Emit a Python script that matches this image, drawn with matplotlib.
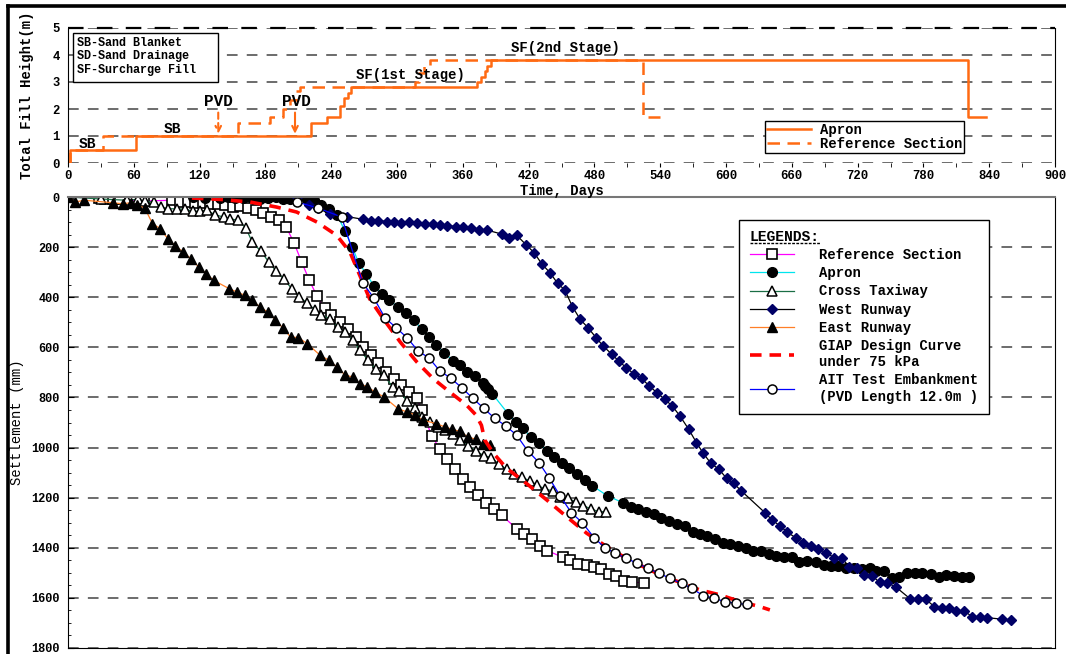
import matplotlib
matplotlib.use("Agg")
import matplotlib.pyplot as plt
from matplotlib.lines import Line2D
from matplotlib.patches import Rectangle
from matplotlib.transforms import IdentityTransform

plt.rcParams['font.family'] = ['Liberation Mono', 'DejaVu Sans']

# ---- top panel: fill height (steps, value holds from each time on) ----
apron_fill_t = [0, 2, 62, 222, 236, 248, 252, 255, 258, 373, 377, 380, 382, 386, 821, 837]
apron_fill_h = [0, 0.5, 1.0, 1.5, 1.7, 2.1, 2.4, 2.6, 2.8, 3.0, 3.2, 3.4, 3.6, 3.8, 1.7, 1.7]
ref_fill_t = [0, 2, 32, 155, 184, 196, 202, 208, 212, 316, 320, 325, 330, 524, 540]
ref_fill_h = [0, 0.5, 1.0, 1.5, 1.7, 2.0, 2.35, 2.65, 2.8, 3.0, 3.35, 3.6, 3.8, 1.7, 1.7]

# ---- bottom panel: settlement (mm) vs time (days) ----
ref_day = [0, 28, 34, 41, 47, 69, 95, 102, 109, 116, 123, 129.5, 136.5, 143, 150, 157, 164, 171, 178,
           185, 192, 199, 206, 213, 220, 227, 234, 240, 248, 255, 263, 269, 276, 283, 290, 297, 304,
           311, 318, 322.5, 331.6, 339, 346, 353, 360, 367, 374, 381, 388, 395.5, 409, 416, 423, 430,
           437, 451, 458, 465, 473, 480, 486, 493, 500, 507, 514, 525]
ref_set = [0, 4, 7, 9, 9, 16, 13, 20, 20, 23, 24, 27, 27, 31, 40, 36, 44, 53, 64,
           78, 93, 120, 182, 259, 332, 395, 443, 470, 499, 528, 559, 599, 629, 661, 698, 725, 752,
           780, 803, 850, 952, 1006, 1045, 1085, 1127, 1158, 1189, 1220, 1246, 1269, 1325, 1346, 1366, 1391,
           1411, 1438, 1449, 1465, 1468, 1478, 1484, 1504, 1512, 1531, 1538, 1539]

apron_day = [114, 125, 139, 146, 152, 160, 167.5, 175, 182, 190, 196, 202, 208.5, 218, 224, 231, 238,
             245.5, 252.6, 259, 265, 272, 279, 286, 293, 301, 308, 315.5, 322.5, 329.5, 336, 343, 351,
             357, 364, 371, 378, 380, 383, 387, 401.5, 408.5, 415, 422, 429.5, 436.5, 443, 450, 457,
             464, 471, 478, 492, 506, 513, 520, 527, 534, 541, 548, 555.5, 562.5, 569.5, 576, 583, 590,
             597, 604, 611, 618, 625, 632, 639.5, 646, 653, 660, 667, 674, 682, 689, 695.5, 702, 709,
             717, 724, 731, 737, 744, 751, 758, 765, 772, 779, 787, 794, 801, 808, 815, 822]
apron_set = [0, 4, 4, 0, 4, 4, 4, 7, 4, 0, 9, 7, 4, 9, 13, 31, 47,
             71, 137, 198, 262, 307, 355, 387, 411, 440, 464, 491, 528, 557, 591, 621, 653,
             670, 697, 714, 741, 754, 767, 786, 866, 897, 923, 959, 983, 1012, 1039, 1060, 1083,
             1105, 1129, 1152, 1193, 1220, 1238, 1246, 1256, 1265, 1282, 1292, 1305, 1313, 1336, 1345, 1353, 1366,
             1380, 1385, 1393, 1402, 1411, 1413, 1426, 1431, 1438, 1438, 1455, 1453, 1455, 1468, 1471, 1472, 1479,
             1482, 1484, 1482, 1492, 1491, 1519, 1517, 1501, 1501, 1501, 1504, 1515, 1508, 1511, 1515, 1517]

cross_day = [0, 30, 53.5, 64, 70, 78, 85, 91.5, 99, 107, 114, 120, 126.5, 134, 142, 148, 155, 162, 168,
             176, 183, 190, 197, 204, 211, 218, 225, 231, 239, 246, 253, 260, 266, 274, 281, 288, 296,
             302, 309, 316, 323, 330, 337, 344, 351, 357, 365, 372, 379, 386, 393, 400, 407, 414, 421,
             428, 435, 442, 449, 456, 463, 470, 477, 484, 491]
cross_set = [0, 8, 13, 9, 17, 20, 40, 47, 47, 49, 57, 57, 53, 71, 80, 87, 93, 122, 180,
             217, 259, 297, 328, 366, 399, 423, 450, 472, 486, 519, 539, 572, 612, 652, 688, 711, 758,
             773, 814, 844, 879, 897, 917, 930, 947, 970, 992, 1014, 1032, 1040, 1067, 1087, 1107, 1119, 1133,
             1149, 1167, 1172, 1198, 1202, 1218, 1232, 1245, 1256, 1256]

west_day = [209, 220, 228, 239, 254, 269, 276, 283, 290.5, 297, 304, 311, 318.5, 325.5, 332.5, 339, 346,
            353.5, 360.5, 367.5, 375, 382, 395.5, 402.5, 409, 418, 425, 432, 439.5, 446.5, 453, 460, 467,
            474, 481.5, 488, 496, 502, 509, 516, 523, 530, 537, 544, 551, 558, 566, 573, 579, 586, 593.6,
            600.6, 607, 614, 635.5, 642, 649, 656, 663.5, 670.5, 677.5, 684, 691, 698.5, 705.5, 712, 719,
            726, 733, 740, 747, 755, 768, 775, 782, 790, 796.6, 803.6, 810, 817, 824.6, 831.6, 838, 852, 859.6]
west_set = [0, 32, 45, 68, 78, 89, 94, 94, 98, 101, 102, 98, 105, 109, 109, 112, 114,
            118, 121, 122, 132, 132, 148, 165, 152, 192, 222, 267, 302, 345, 371, 438, 488,
            521, 561, 595, 628, 654, 681, 706, 724, 754, 781, 807, 834, 874, 927, 980, 1021, 1062, 1087,
            1123, 1143, 1173, 1260, 1289, 1312, 1338, 1360, 1382, 1393, 1405, 1419, 1439, 1439, 1475, 1479,
            1508, 1511, 1538, 1539, 1557, 1604, 1604, 1605, 1635, 1639, 1639, 1651, 1652, 1675, 1677, 1679, 1685, 1688]

east_day = [0, 6, 15, 41, 50, 57, 63, 70, 77, 84, 91, 98, 105, 112, 119, 126, 133, 147, 154, 161, 168,
            175, 182, 189, 196, 203, 210, 218, 230, 238, 245, 253, 260, 266, 273, 280, 288, 301, 309,
            316, 324, 336, 344, 350, 357, 365, 372, 378, 385]
east_set = [0, 20, 13, 23, 27, 23, 33, 44, 106, 126, 166, 196, 219, 246, 279, 306, 333, 366, 379, 392, 412,
            439, 459, 490, 523, 559, 561, 585, 632, 652, 678, 712, 718, 745, 758, 778, 798, 845, 858,
            869, 891, 905, 918, 927, 935, 958, 967, 986, 990]

giap_day = [113, 140, 166, 190, 208.5, 227, 245, 257, 266, 275, 287.5, 303, 318, 333, 348, 363.5, 372,
            377, 380, 388, 400, 418, 436.5, 454.7, 473, 491, 509, 527.6, 540, 576, 594.5, 613, 631, 640]
giap_set = [4, 10, 20, 40, 60, 100, 153, 219, 312, 406, 486, 579, 658, 725, 778, 831, 870,
            911, 970, 1023, 1083, 1143, 1209, 1276, 1342, 1395, 1442, 1482, 1508, 1568, 1588, 1615, 1635, 1648]

ait_day = [209, 228, 249.5, 268.7, 279, 289, 299, 309, 319, 329.5, 339, 349, 359, 369, 379, 389, 399,
           409, 419, 429.5, 439, 449, 459, 469, 479.6, 489.6, 499, 509, 519, 529, 539, 549, 559.5, 569,
           579, 589, 599, 609, 619]
ait_set = [20, 44, 80, 342, 404, 482, 521, 561, 613, 644, 694, 723, 761, 803, 843, 883, 913,
           950, 1012, 1060, 1123, 1195, 1260, 1300, 1359, 1400, 1422, 1442, 1462, 1482, 1502, 1522, 1542, 1562,
           1591, 1601, 1615, 1622, 1626]

W, H = 1066, 654
fig = plt.figure(figsize=(W / 100, H / 100), dpi=100)
fig.patch.set_facecolor('white')

def fx(px):
    return px / W

def fy(py):
    return 1 - py / H

orange = '#ff6a13'
grid_kw = dict(color='#444444', linestyle=(0, (7, 6)), linewidth=1.1)

# ================= top axes =================
ax1 = fig.add_axes([fx(68), fy(163), fx(1055) - fx(68), fy(28) - fy(163)])
ax1.plot(apron_fill_t, apron_fill_h, color=orange, lw=1.8, drawstyle='steps-post')
ax1.plot(ref_fill_t, ref_fill_h, color=orange, lw=1.8, linestyle=(0, (5, 3)), drawstyle='steps-post')
ax1.set_xlim(0, 900)
ax1.set_ylim(0, 5)
ax1.set_xticks(range(0, 901, 60))
ax1.set_xticks(range(30, 900, 60), minor=True)
ax1.set_yticks(range(0, 6))
ax1.tick_params(axis='x', which='both', direction='out', length=3, pad=2)
ax1.tick_params(axis='y', which='both', length=0, pad=6)
for lab in ax1.get_xticklabels() + ax1.get_yticklabels():
    lab.set_fontsize(8.8)
    lab.set_fontweight('bold')
ax1.yaxis.grid(True, **grid_kw)
ax1.spines['top'].set_visible(False)
ax1.spines['bottom'].set_visible(False)
ax1.axhline(5, color='black', linestyle=(0, (7, 6)), linewidth=1.6, clip_on=False)
ax1.set_ylabel('Total Fill Height(m)', fontsize=10, fontweight='bold')
ax1.yaxis.set_label_coords(-0.034, 0.5)

# abbreviation box
box_x0 = (73 - 68) / 987
box_x1 = (218 - 68) / 987
box_y0 = (163 - 82) / 135
box_y1 = (163 - 33) / 135
ax1.add_patch(Rectangle((box_x0, box_y0), box_x1 - box_x0, box_y1 - box_y0,
                        transform=ax1.transAxes, facecolor='white', edgecolor='black',
                        lw=1.0, zorder=3))
ax1.text((77 - 68) / 987, (163 - 37) / 135, 'SB-Sand Blanket\nSD-Sand Drainage\nSF-Surcharge Fill',
         transform=ax1.transAxes, ha='left', va='top', fontsize=8.5, fontweight='bold',
         linespacing=1.15, zorder=4)

ax1.text(18, 0.70, 'SB', ha='center', va='center', fontsize=10.5, fontweight='bold')
ax1.text(95, 1.26, 'SB', ha='center', va='center', fontsize=10.5, fontweight='bold')
ax1.text(137, 2.27, 'PVD', ha='center', va='center', fontsize=11.5, fontweight='bold')
ax1.text(208, 2.27, 'PVD', ha='center', va='center', fontsize=11.5, fontweight='bold')
ax1.text(312, 3.27, 'SF(1st Stage)', ha='center', va='center', fontsize=10, fontweight='bold')
ax1.text(454, 4.27, 'SF(2nd Stage)', ha='center', va='center', fontsize=10, fontweight='bold')
ax1.annotate('', xy=(137, 0.98), xytext=(137, 1.97),
             arrowprops=dict(arrowstyle='->', color=orange, lw=1.5, linestyle=(0, (3, 2))))
ax1.annotate('', xy=(207, 0.98), xytext=(207, 1.97),
             arrowprops=dict(arrowstyle='->', color=orange, lw=1.5))

top_handles = [Line2D([], [], color=orange, lw=1.8),
               Line2D([], [], color=orange, lw=1.8, linestyle=(0, (5, 3)))]
leg1 = ax1.legend(top_handles, ['Apron', 'Reference Section'], loc='lower left',
                  bbox_to_anchor=(0.706, 0.074), labelspacing=0.0,
                  handlelength=3.2, handletextpad=0.6, borderpad=0.15, borderaxespad=0,
                  fancybox=False, framealpha=1, edgecolor='black',
                  prop=dict(weight='bold', size=10))
leg1.get_frame().set_linewidth(1.0)

fig.text((fx(68) + fx(1055)) / 2, fy(191), 'Time, Days', ha='center', va='center',
         fontsize=10, fontweight='bold')

# ================= bottom axes =================
ax2 = fig.add_axes([fx(68), fy(648), fx(1055) - fx(68), fy(197) - fy(648)])
ax2.plot(ref_day, ref_set, color='#ff00ff', lw=0.9, marker='s', ms=7, mfc='white',
         mec='black', mew=1.2, label='Reference Section')
ax2.plot(apron_day, apron_set, color='#00e5ee', lw=0.9, marker='o', ms=7, mfc='black',
         mec='black', label='Apron')
ax2.plot(cross_day, cross_set, color='#1a6e45', lw=0.9, marker='^', ms=6.5, mfc='white',
         mec='black', mew=1.1, label='Cross Taxiway')
ax2.plot(west_day, west_set, color='black', lw=0.9, marker='D', ms=5.2, mfc='#000066',
         mec='#000066', label='West Runway')
ax2.plot(east_day, east_set, color='#ff7f27', lw=0.9, marker='^', ms=6.5, mfc='black',
         mec='black', label='East Runway')
ax2.plot(giap_day, giap_set, color='red', lw=2.6, linestyle=(0, (3.2, 2.2)),
         label='GIAP Design Curve\nunder 75 kPa')
ax2.plot(ait_day, ait_set, color='#0000ff', lw=0.9, marker='o', ms=6.5, mfc='white',
         mec='black', mew=1.1, label='AIT Test Embankment\n(PVD Length 12.0m )')

ax2.set_xlim(0, 900)
ax2.set_ylim(1800, 0)
ax2.set_yticks(range(0, 1801, 200))
ax2.set_yticks(range(50, 1800, 50), minor=True)
ax2.set_xticks([])
ax2.tick_params(axis='y', which='major', direction='in', length=4, pad=6)
ax2.tick_params(axis='y', which='minor', direction='in', length=2.5)
for lab in ax2.get_yticklabels():
    lab.set_fontsize(8.6)
    lab.set_fontweight('bold')
ax2.yaxis.grid(True, which='major', **grid_kw)
ax2.spines['top'].set_color('#777777')
ax2.spines['top'].set_linewidth(1.5)
ax2.set_ylabel('Settlement (mm)', fontsize=10)
ax2.yaxis.set_label_coords(-0.045, 0.5)

leg2 = ax2.legend(loc='upper left', bbox_to_anchor=(0.68, 0.95), title='LEGENDS:',
                  alignment='left', fancybox=False, framealpha=1, edgecolor='black',
                  prop=dict(weight='bold', size=10), handlelength=3.2, handletextpad=1.8,
                  labelspacing=0.3, borderpad=0.75, borderaxespad=0,
                  title_fontproperties=dict(weight='bold', size=10.5))
leg2.get_frame().set_linewidth(1.0)

# figure frame lines
fig.add_artist(Line2D([fx(8), 1], [fy(6), fy(6)], color='black', lw=2.6))
fig.add_artist(Line2D([fx(8), fx(8)], [fy(6), 0], color='black', lw=2.6))

# underline for legend title
fig.canvas.draw()
renderer = fig.canvas.get_renderer()
bb = leg2.get_title().get_window_extent(renderer)
fig.add_artist(Line2D([bb.x0, bb.x1], [bb.y0 + 1, bb.y0 + 1], transform=IdentityTransform(),
                      color='black', lw=1.0, linestyle=(0, (2, 1))))

fig.savefig('out.png', dpi=100)
